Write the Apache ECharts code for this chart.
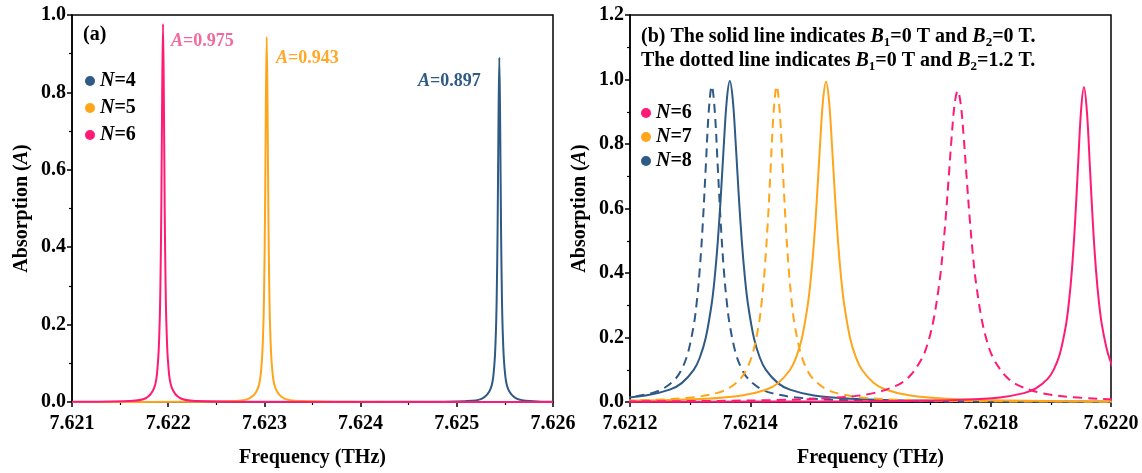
<!DOCTYPE html>
<html>
<head>
<meta charset="utf-8">
<script src="https://cdn.jsdelivr.net/npm/echarts@6/dist/echarts.min.js"></script>
<style>
  html, body { margin: 0; padding: 0; background: #fff; }
  #main { width: 1142px; height: 473px; }
</style>
</head>
<body>
<div id="main"></div>
<script>
// ---- panel (a): single peaks, N = 4, 5, 6 ----
var aN4Freq = [7.621, 7.624542, 7.625082, 7.625262, 7.625352, 7.625388, 7.625406, 7.625415, 7.625424, 7.625433, 7.625442, 7.625451, 7.62546, 7.625469, 7.625478, 7.625496, 7.625532, 7.625622, 7.625802, 7.626];
var aN4Abs  = [0, 0.0004, 0.0022, 0.0088, 0.0343, 0.089, 0.178, 0.2739, 0.445, 0.712, 0.89, 0.712, 0.445, 0.2739, 0.178, 0.089, 0.0343, 0.0088, 0.0022, 0.0009];

var aN5Freq = [7.621, 7.622124, 7.622664, 7.622844, 7.622934, 7.62297, 7.622988, 7.622997, 7.623006, 7.623015, 7.623024, 7.623033, 7.623042, 7.623051, 7.62306, 7.623078, 7.623114, 7.623204, 7.623384, 7.623924, 7.626];
var aN5Abs  = [0, 0.0004, 0.0024, 0.0093, 0.0363, 0.0943, 0.1886, 0.2902, 0.4715, 0.7544, 0.943, 0.7544, 0.4715, 0.2902, 0.1886, 0.0943, 0.0363, 0.0093, 0.0024, 0.0004, 0];

var aN6Freq = [7.621, 7.621586, 7.621766, 7.621856, 7.621892, 7.62191, 7.621919, 7.621928, 7.621937, 7.621946, 7.621955, 7.621964, 7.621973, 7.621982, 7.622, 7.622036, 7.622126, 7.622306, 7.622846, 7.626];
var aN6Abs  = [0.0004, 0.0024, 0.0097, 0.0376, 0.0977, 0.1954, 0.3006, 0.4885, 0.7816, 0.977, 0.7816, 0.4885, 0.3006, 0.1954, 0.0977, 0.0376, 0.0097, 0.0024, 0.0004, 0];

// ---- panel (b): N = 6, 7, 8; solid = B2 0 T, dashed = B2 1.2 T ----
var bN8SolidFreq = [7.620566, 7.620866, 7.621066, 7.621166, 7.621226, 7.621266, 7.621286, 7.621306, 7.621316, 7.621326, 7.621336, 7.621341, 7.621346, 7.621351, 7.621356, 7.621361, 7.621366, 7.621371, 7.621376, 7.621381, 7.621386, 7.621391, 7.621396, 7.621406, 7.621416, 7.621426, 7.621446, 7.621466, 7.621506, 7.621566, 7.621666, 7.621866, 7.622166];
var bN8SolidAbs  = [0.0006, 0.0016, 0.0044, 0.0099, 0.0199, 0.0383, 0.0585, 0.0995, 0.1372, 0.199, 0.3062, 0.3882, 0.4975, 0.6368, 0.796, 0.9365, 0.995, 0.9365, 0.796, 0.6368, 0.4975, 0.3882, 0.3062, 0.199, 0.1372, 0.0995, 0.0585, 0.0383, 0.0199, 0.0099, 0.0044, 0.0016, 0.0006];

var bN8DashFreq = [7.620536, 7.620836, 7.621036, 7.621136, 7.621196, 7.621236, 7.621256, 7.621276, 7.621286, 7.621296, 7.621306, 7.621311, 7.621316, 7.621321, 7.621326, 7.621331, 7.621336, 7.621341, 7.621346, 7.621351, 7.621356, 7.621361, 7.621366, 7.621376, 7.621386, 7.621396, 7.621416, 7.621436, 7.621476, 7.621536, 7.621636, 7.621836, 7.622136];
var bN8DashAbs  = [0.0004, 0.0012, 0.0031, 0.0071, 0.0142, 0.0275, 0.0423, 0.0728, 0.1016, 0.1499, 0.2381, 0.3097, 0.4111, 0.5512, 0.728, 0.902, 0.98, 0.902, 0.728, 0.5512, 0.4111, 0.3097, 0.2381, 0.1499, 0.1016, 0.0728, 0.0423, 0.0275, 0.0142, 0.0071, 0.0031, 0.0012, 0.0004];

var bN7SolidFreq = [7.620726, 7.621026, 7.621226, 7.621326, 7.621386, 7.621426, 7.621446, 7.621466, 7.621476, 7.621486, 7.621496, 7.621501, 7.621506, 7.621511, 7.621516, 7.621521, 7.621526, 7.621531, 7.621536, 7.621541, 7.621546, 7.621551, 7.621556, 7.621566, 7.621576, 7.621586, 7.621606, 7.621626, 7.621666, 7.621726, 7.621826, 7.622026, 7.622326];
var bN7SolidAbs  = [0.0006, 0.0016, 0.0044, 0.0098, 0.0199, 0.0382, 0.0584, 0.0993, 0.1369, 0.1986, 0.3056, 0.3875, 0.4965, 0.6355, 0.7944, 0.9346, 0.993, 0.9346, 0.7944, 0.6355, 0.4965, 0.3875, 0.3056, 0.1986, 0.1369, 0.0993, 0.0584, 0.0382, 0.0199, 0.0098, 0.0044, 0.0016, 0.0006];

var bN7DashFreq = [7.620644, 7.620944, 7.621144, 7.621244, 7.621304, 7.621344, 7.621364, 7.621384, 7.621394, 7.621404, 7.621414, 7.621419, 7.621424, 7.621429, 7.621434, 7.621439, 7.621444, 7.621449, 7.621454, 7.621459, 7.621464, 7.621469, 7.621474, 7.621484, 7.621494, 7.621504, 7.621524, 7.621544, 7.621584, 7.621644, 7.621744, 7.621944, 7.622244];
var bN7DashAbs  = [0.0004, 0.0012, 0.0031, 0.0071, 0.0142, 0.0275, 0.0423, 0.0728, 0.1016, 0.1499, 0.2381, 0.3097, 0.4111, 0.5512, 0.728, 0.902, 0.98, 0.902, 0.728, 0.5512, 0.4111, 0.3097, 0.2381, 0.1499, 0.1016, 0.0728, 0.0423, 0.0275, 0.0142, 0.0071, 0.0031, 0.0012, 0.0004];

var bN6SolidFreq = [7.621155, 7.621455, 7.621655, 7.621755, 7.621815, 7.621855, 7.621875, 7.621895, 7.621905, 7.621915, 7.621925, 7.62193, 7.621935, 7.62194, 7.621945, 7.62195, 7.621955, 7.62196, 7.621965, 7.62197, 7.621975, 7.62198, 7.621985, 7.621995, 7.622005, 7.622015, 7.622035, 7.622055, 7.622095, 7.622155, 7.622255, 7.622455, 7.622755];
var bN6SolidAbs  = [0.0004, 0.0012, 0.0031, 0.007, 0.0142, 0.0275, 0.0422, 0.0726, 0.1013, 0.1495, 0.2374, 0.3087, 0.4099, 0.5495, 0.7259, 0.8992, 0.977, 0.8992, 0.7259, 0.5495, 0.4099, 0.3087, 0.2374, 0.1495, 0.1013, 0.0726, 0.0422, 0.0275, 0.0142, 0.007, 0.0031, 0.0012, 0.0004];

var bN6DashFreq = [7.620945, 7.621245, 7.621445, 7.621545, 7.621605, 7.621645, 7.621665, 7.621685, 7.621695, 7.621705, 7.621715, 7.62172, 7.621725, 7.62173, 7.621735, 7.62174, 7.621745, 7.62175, 7.621755, 7.62176, 7.621765, 7.62177, 7.621775, 7.621785, 7.621795, 7.621805, 7.621825, 7.621845, 7.621885, 7.621945, 7.622045, 7.622245, 7.622545];
var bN6DashAbs  = [0.0009, 0.0022, 0.0062, 0.0137, 0.0275, 0.0526, 0.0797, 0.1332, 0.1805, 0.2557, 0.3764, 0.4622, 0.5694, 0.6938, 0.8222, 0.925, 0.965, 0.925, 0.8222, 0.6938, 0.5694, 0.4622, 0.3764, 0.2557, 0.1805, 0.1332, 0.0797, 0.0526, 0.0275, 0.0137, 0.0062, 0.0022, 0.0009];

var legendA = ['N=4', 'N=5', 'N=6'];
var legendB = ['N=6', 'N=7', 'N=8'];
var peakLabels = ['A=0.975', 'A=0.943', 'A=0.897'];

var BLUE = '#2e5a85', ORANGE = '#ffa51c', PINK = '#ff1a76';
var FONT = '"Liberation Serif", "Times New Roman", serif';

function zip(xs, ys) {
  return xs.map(function (x, i) { return [x, ys[i]]; });
}

var dom = document.getElementById('main');
var myChart = echarts.init(dom, null, { renderer: 'canvas' });

var richTxt = {
  b: { fontFamily: FONT, fontWeight: 'bold', fontSize: 20, color: '#000', lineHeight: 24 },
  i: { fontFamily: FONT, fontWeight: 'bold', fontStyle: 'italic', fontSize: 20, color: '#000', lineHeight: 24 },
  s: { fontFamily: FONT, fontWeight: 'bold', fontSize: 13, color: '#000', lineHeight: 14, verticalAlign: 'bottom' }
};
var richLegend = {
  b: { fontFamily: FONT, fontWeight: 'bold', fontSize: 20, color: '#000', lineHeight: 20 },
  i: { fontFamily: FONT, fontWeight: 'bold', fontStyle: 'italic', fontSize: 20, color: '#000', lineHeight: 20 }
};

function xAxisCfg(idx, min, max, step, digits) {
  return {
    gridIndex: idx, type: 'value', min: min, max: max, interval: step,
    name: 'Frequency (THz)', nameLocation: 'middle', nameGap: 46,
    nameTextStyle: { fontFamily: FONT, fontWeight: 'bold', fontSize: 20, color: '#000' },
    axisLine: { onZero: false, lineStyle: { color: '#000', width: 1.5 } },
    axisTick: { length: 5, lineStyle: { color: '#000', width: 1.5 } },
    minorTick: { show: true, splitNumber: 2, length: 3, lineStyle: { color: '#000', width: 1.2 } },
    splitLine: { show: false },
    axisLabel: {
      fontFamily: FONT, fontWeight: 'bold', fontSize: 20, color: '#000', margin: 12,
      formatter: function (v) { return v.toFixed(digits); }
    }
  };
}

function yAxisCfg(idx, max) {
  return {
    gridIndex: idx, type: 'value', min: 0, max: max, interval: 0.2,
    name: '{b|Absorption (}{i|A}{b|)}', nameLocation: 'middle', nameGap: 40,
    nameTextStyle: { rich: richLegend },
    axisLine: { onZero: false, lineStyle: { color: '#000', width: 1.5 } },
    axisTick: { length: 5, lineStyle: { color: '#000', width: 1.5 } },
    minorTick: { show: true, splitNumber: 2, length: 3, lineStyle: { color: '#000', width: 1.2 } },
    splitLine: { show: false },
    axisLabel: {
      fontFamily: FONT, fontWeight: 'bold', fontSize: 20, color: '#000', margin: 6,
      formatter: function (v) { return v.toFixed(1); }
    }
  };
}

function lineSeries(name, xi, color, xs, ys, dashed) {
  return {
    name: name, type: 'line', xAxisIndex: xi, yAxisIndex: xi,
    data: zip(xs, ys), showSymbol: false, smooth: 0.35, clip: true,
    color: color,
    lineStyle: { color: color, width: 2, type: dashed ? [9, 6] : 'solid', join: 'round' },
    emphasis: { disabled: true }, animation: false
  };
}

function legendCfg(data, left, top, gap) {
  return {
    data: data, orient: 'vertical', left: left, top: top, icon: 'circle',
    itemWidth: 10, itemHeight: 10, itemGap: gap,
    formatter: function (n) { return '{i|N}{b|' + n.slice(1) + '}'; },
    textStyle: { rich: richLegend }
  };
}

function peakText(label, left, top, color) {
  return {
    type: 'text', left: left, top: top, style: {
      text: '{i|A}{b|' + label.slice(1) + '}',
      rich: {
        i: { font: 'italic bold 18px ' + FONT, fill: color },
        b: { font: 'bold 18px ' + FONT, fill: color }
      }
    }
  };
}

var option = {
  backgroundColor: '#fff',
  animation: false,
  grid: [
    { left: 72, top: 15, width: 481, height: 388, show: true, borderColor: '#000', borderWidth: 1.5 },
    { left: 630, top: 15, width: 481, height: 388, show: true, borderColor: '#000', borderWidth: 1.5 }
  ],
  xAxis: [xAxisCfg(0, 7.621, 7.626, 0.001, 3), xAxisCfg(1, 7.6212, 7.622, 0.0002, 4)],
  yAxis: [yAxisCfg(0, 1.0), yAxisCfg(1, 1.2)],
  legend: [legendCfg(legendA, 80, 66, 7), legendCfg(legendB, 636, 98, 4)],
  series: [
    lineSeries('N=4', 0, BLUE, aN4Freq, aN4Abs, false),
    lineSeries('N=5', 0, ORANGE, aN5Freq, aN5Abs, false),
    lineSeries('N=6', 0, PINK, aN6Freq, aN6Abs, false),
    lineSeries('N=8', 1, BLUE, bN8SolidFreq, bN8SolidAbs, false),
    lineSeries('N=8', 1, BLUE, bN8DashFreq, bN8DashAbs, true),
    lineSeries('N=7', 1, ORANGE, bN7SolidFreq, bN7SolidAbs, false),
    lineSeries('N=7', 1, ORANGE, bN7DashFreq, bN7DashAbs, true),
    lineSeries('N=6', 1, PINK, bN6SolidFreq, bN6SolidAbs, false),
    lineSeries('N=6', 1, PINK, bN6DashFreq, bN6DashAbs, true)
  ],
  graphic: [
    { type: 'text', left: 83, top: 25, style: { text: '(a)', font: 'bold 20px ' + FONT, fill: '#000' } },
    peakText(peakLabels[0], 171, 32, '#f26a9c'),
    peakText(peakLabels[1], 276, 49, '#ffa82a'),
    peakText(peakLabels[2], 418, 72, BLUE),
    { type: 'text', left: 641, top: 27, style: {
        text: '{b|(b) The solid line indicates }{i|B}{s|1}{b|=0 T and }{i|B}{s|2}{b|=0 T.}\n' +
              '{b|The dotted line indicates }{i|B}{s|1}{b|=0 T and }{i|B}{s|2}{b|=1.2 T.}',
        rich: richTxt } }
  ]
};

if (option && typeof option === 'object') {
  myChart.setOption(option);
}

window.addEventListener('resize', myChart.resize);
</script>
</body>
</html>
